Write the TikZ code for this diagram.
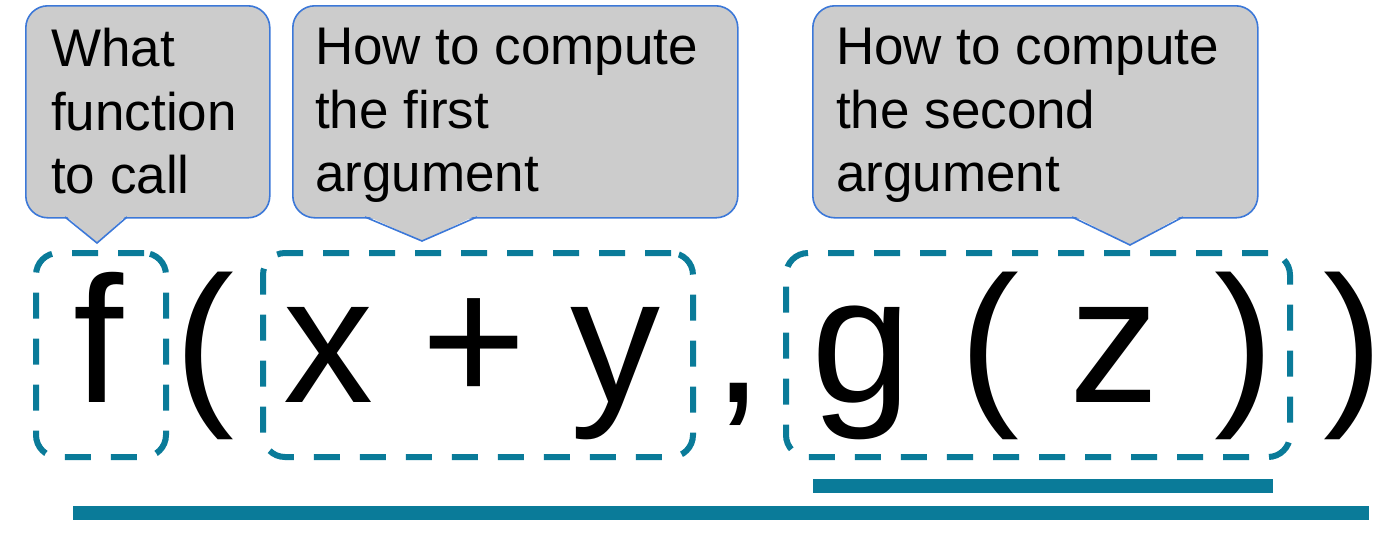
\documentclass[tikz,border=0pt]{standalone}
\usepackage{fontspec}
\setmainfont{Liberation Sans}
\definecolor{dashcol}{RGB}{10,123,153}
\definecolor{bubblefill}{RGB}{204,204,204}
\definecolor{bubbleline}{RGB}{60,120,216}
\begin{document}
\begin{tikzpicture}[x=1pt,y=-1pt,
  glyph/.style={font=\fontsize{180}{180}\selectfont, inner sep=0, anchor=base},
  argbox/.style={draw=dashcol, line width=6pt, dash pattern=on 26pt off 20pt, rounded corners=22pt, minimum height=204pt, inner sep=0},
  bubble/.style={fill=bubblefill, draw=bubbleline, line width=1.6pt, rounded corners=22pt, anchor=north west, inner sep=0, minimum height=212pt},
  bubbletext/.style={font=\fontsize{53}{63.5}\selectfont, align=left, anchor=north west, inner sep=0},
  pointer/.style={draw=bubbleline, line width=1.6pt, line join=miter},
  uline/.style={draw=dashcol, line width=14pt},
]
\useasboundingbox (0,0) rectangle (1378,539);

% callouts
\node[bubble, minimum width=244pt] (b1) at (25,5) {};
\node[bubble, minimum width=445pt] (b2) at (292,5) {};
\node[bubble, minimum width=445pt] (b3) at (812,5) {};

\coordinate (p1l) at (65,217);  \coordinate (t1) at (97,243);   \coordinate (p1r) at (127,217);
\coordinate (p2l) at (365,217); \coordinate (t2) at (422,241);  \coordinate (p2r) at (477,217);
\coordinate (p3l) at (1072,217);\coordinate (t3) at (1130,245); \coordinate (p3r) at (1183,217);

\foreach \i in {1,2,3}{
  \fill[bubblefill] ([yshift=2pt]p\i l) -- (t\i) -- ([yshift=2pt]p\i r) -- cycle;
  \draw[pointer] (p\i l) -- (t\i) -- (p\i r);
}

\node[bubbletext] (l1) at (51,28) {What\\function\\to call};
\node[bubbletext] (l2) at (315,28) {How to compute\\the first\\argument};
\node[bubbletext] (l3) at (836,28) {How to compute\\the second\\argument};

% dashed argument boxes
\node[argbox, minimum width=130pt] (fbox) at (101,355) {};
\node[argbox, minimum width=430pt] (xbox) at (478,355) {};
\node[argbox, minimum width=504pt] (gbox) at (1038,355) {};

% glyphs
\node[glyph] (f)  at (99,402) {f};
\node[glyph] (o1) at (204.5,402) {(};
\node[glyph] (x)  at (328.5,402) {x};
\node[glyph] (pl) at (474.5,402) {+};
\node[glyph] (y)  at (615.5,402) {y};
\node[glyph] (cm) at (738,402) {,};
\node[glyph] (g)  at (862,402) {g};
\node[glyph] (o2) at (989.5,402) {(};
\node[glyph] (z)  at (1114.5,402) {z};
\node[glyph] (c1) at (1244,402) {)};
\node[glyph] (c2) at (1353,402) {)};

% underlines
\coordinate (u1a) at (73,512.5);  \coordinate (u1b) at (1369,512.5);
\coordinate (u2a) at (813,485.5); \coordinate (u2b) at (1273,485.5);
\draw[uline] (u1a) -- (u1b);
\draw[uline] (u2a) -- (u2b);
\end{tikzpicture}
\end{document}
